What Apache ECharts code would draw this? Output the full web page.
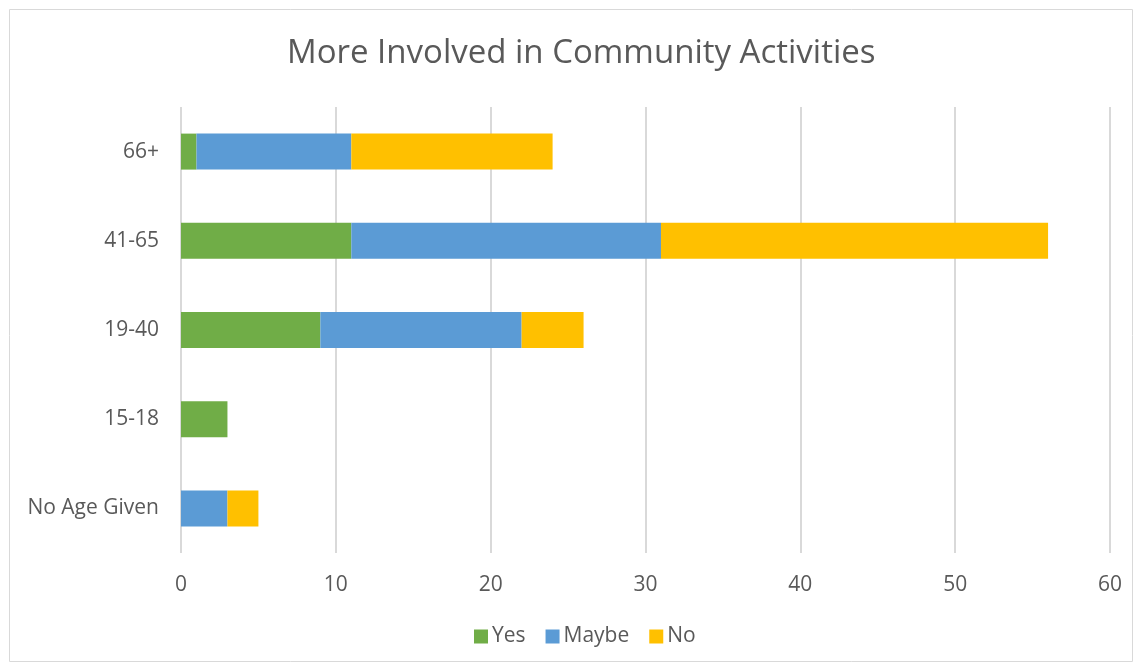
<!DOCTYPE html>
<html><head><meta charset="utf-8">
<script src="https://cdn.jsdelivr.net/npm/echarts@6/dist/echarts.min.js"></script>
<style>html,body{margin:0;padding:0;background:#fff}#c{width:1142px;height:671px}</style>
</head><body><div id="c"></div>
<script>
const categories = ['No Age Given', '15-18', '19-40', '41-65', '66+'];
const yesValues = [0, 3, 9, 11, 1];
const maybeValues = [3, 0, 13, 20, 10];
const noValues = [2, 0, 4, 25, 13];
const xTicks = [0, 10, 20, 30, 40, 50, 60];

const font = '"Open Sans", "Noto Sans", sans-serif';
const chart = echarts.init(document.getElementById('c'));
function s(name, data, color) {
  return { name, type: 'bar', stack: 'a', data, barWidth: 36, itemStyle: { color }, emphasis: { disabled: true } };
}
chart.setOption({
  animation: false,
  graphic: [{ type: 'rect', shape: { x: 9.5, y: 9.5, width: 1123, height: 652 }, style: { fill: 'none', stroke: '#d9d9d9', lineWidth: 1 }, silent: true }],
  title: { text: 'More Involved in Community Activities', left: 282, top: 32, textStyle: { fontFamily: font, fontSize: 33, fontWeight: 'normal', color: '#595959' } },
  grid: { left: 181, top: 107, width: 929, height: 446, containLabel: false },
  legend: { bottom: 19, left: 469, itemWidth: 14, itemHeight: 14, itemGap: 20, icon: 'rect', textStyle: { fontFamily: font, fontSize: 21, color: '#595959', padding: [0, 0, 0, -1] }, data: ['Yes', 'Maybe', 'No'] },
  xAxis: { type: 'value', min: xTicks[0], max: xTicks[xTicks.length - 1], interval: 10,
    axisLine: { show: false }, axisTick: { show: false },
    splitLine: { lineStyle: { color: '#d9d9d9', width: 2 } },
    axisLabel: { fontFamily: font, fontSize: 21, color: '#595959', margin: 22 } },
  yAxis: { type: 'category', data: categories,
    axisLine: { show: false }, axisTick: { show: false },
    axisLabel: { fontFamily: font, fontSize: 21, color: '#595959', margin: 22 } },
  series: [s('Yes', yesValues, '#70ad47'), s('Maybe', maybeValues, '#5b9bd5'), s('No', noValues, '#ffc000')]
});
</script></body></html>
